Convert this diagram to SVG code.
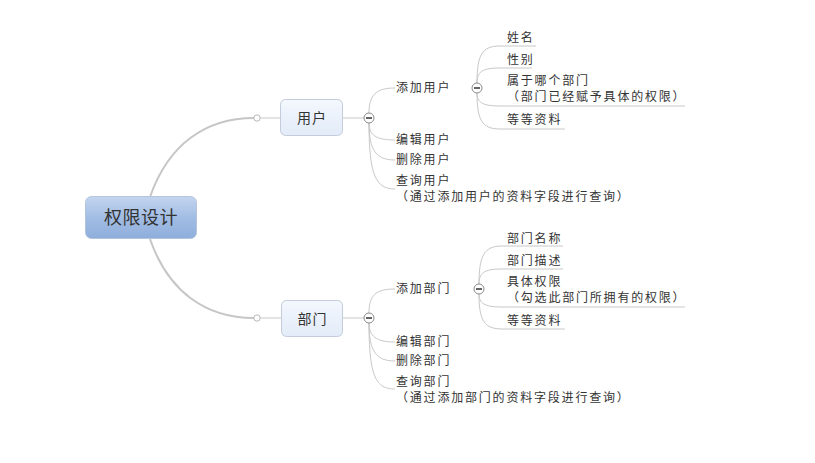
<svg xmlns="http://www.w3.org/2000/svg" width="815" height="463" viewBox="0 0 815 463">
<defs>
<linearGradient id="gRoot" x1="0" y1="0" x2="0" y2="1">
<stop offset="0" stop-color="#c4d5ee"/>
<stop offset="0.5" stop-color="#a2bde4"/>
<stop offset="1" stop-color="#8eaedb"/>
</linearGradient>
<linearGradient id="gMain" x1="0" y1="0" x2="0" y2="1">
<stop offset="0" stop-color="#f4f8fe"/>
<stop offset="1" stop-color="#e2ebf8"/>
</linearGradient>
</defs>
<style>
text{font-family:"Noto Sans CJK SC","Noto Sans",sans-serif;fill:#333}
.t{font-size:12px;letter-spacing:1.8px}
.root{font-size:18px;text-anchor:middle;letter-spacing:0.5px}
.main{font-size:14px;text-anchor:middle;letter-spacing:1px}
.c{fill:none;stroke:#c8c8c8;stroke-width:1}
.rc{fill:none;stroke:#c6c6c6;stroke-width:2}
.dot{fill:#fff;stroke:#b8b8b8;stroke-width:1}
.mc{fill:#fff;stroke:#8a8a8a;stroke-width:1}
.mm{stroke:#222;stroke-width:1.4}
</style>
<rect width="815" height="463" fill="#fff"/>
<g id="connectors">
<path class="rc" d="M150,197 C168,145 205,118 254,118"/>
<path class="rc" d="M150,239 C168,291 205,318 254,318"/>
<path class="c" d="M260,118 L280,118 M343,118 L364,118"/>
<path class="c" d="M260,318 L281,318 M343,318 L364,318"/>
<path class="c" d="M369,113 C369,95 376,88 395,88"/>
<path class="c" d="M369,123 C369,135 376,140 395,140"/>
<path class="c" d="M369,123 C369,150 376,160 395,160"/>
<path class="c" d="M369,123 C369,176 376,189 395,189"/>
<path class="c" d="M477,83 C477,55 482,46 500,46 L536,46"/>
<path class="c" d="M477,83 C477,72 482,68 500,68 L532,68"/>
<path class="c" d="M477,93 C477,102 482,106 500,106 L685,106"/>
<path class="c" d="M477,93 C477,120 482,129 500,129 L565,129"/>
<path class="c" d="M369,313 C369,295 376,289 395,289"/>
<path class="c" d="M369,323 C369,336 376,342 395,342"/>
<path class="c" d="M369,323 C369,351 376,361 395,361"/>
<path class="c" d="M369,323 C369,377 376,389 395,389"/>
<path class="c" d="M479,284 C479,256 484,246 502,246 L563,246"/>
<path class="c" d="M479,284 C479,273 484,269 502,269 L563,269"/>
<path class="c" d="M479,294 C479,303 484,307 502,307 L685,307"/>
<path class="c" d="M479,294 C479,320 484,329 502,329 L565,329"/>
<circle class="dot" cx="257" cy="118" r="3.2"/>
<circle class="dot" cx="257" cy="318" r="3.2"/>
<g><circle class="mc" cx="369" cy="118" r="5"/><path class="mm" d="M366,118 H372"/></g>
<g><circle class="mc" cx="477" cy="88" r="5"/><path class="mm" d="M474,88 H480"/></g>
<g><circle class="mc" cx="369" cy="318" r="5"/><path class="mm" d="M366,318 H372"/></g>
<g><circle class="mc" cx="479" cy="289" r="5"/><path class="mm" d="M476,289 H482"/></g>
</g>
<g id="root">
<rect x="85.5" y="196.5" width="111" height="42" rx="6" fill="url(#gRoot)" stroke="#b4c4dc"/>
<text class="root" x="141" y="224">权限设计</text>
</g>
<g id="user">
<rect x="280.5" y="99.5" width="62" height="36" rx="5" fill="url(#gMain)" stroke="#c2ccda"/>
<text class="main" x="312" y="122.5">用户</text>
</g>
<g id="dept">
<rect x="281.5" y="300.5" width="61" height="36" rx="5" fill="url(#gMain)" stroke="#c2ccda"/>
<text class="main" x="312.5" y="323.5">部门</text>
</g>
<g id="user-add"><text class="t" x="396" y="92">添加用户</text></g>
<g id="user-edit"><text class="t" x="396" y="144">编辑用户</text></g>
<g id="user-del"><text class="t" x="396" y="164">删除用户</text></g>
<g id="user-query"><text class="t" x="396" y="185">查询用户</text><text class="t" x="396" y="201">（通过添加用户的资料字段进行查询）</text></g>
<g id="user-name"><text class="t" x="507" y="42">姓名</text></g>
<g id="user-sex"><text class="t" x="507" y="64">性别</text></g>
<g id="user-dept"><text class="t" x="507" y="85">属于哪个部门</text><text class="t" x="507" y="101">（部门已经赋予具体的权限）</text></g>
<g id="user-etc"><text class="t" x="507" y="124">等等资料</text></g>
<g id="dept-add"><text class="t" x="396" y="293">添加部门</text></g>
<g id="dept-edit"><text class="t" x="396" y="346">编辑部门</text></g>
<g id="dept-del"><text class="t" x="396" y="365">删除部门</text></g>
<g id="dept-query"><text class="t" x="396" y="386">查询部门</text><text class="t" x="396" y="402">（通过添加部门的资料字段进行查询）</text></g>
<g id="dept-name"><text class="t" x="507" y="243">部门名称</text></g>
<g id="dept-desc"><text class="t" x="507" y="265">部门描述</text></g>
<g id="dept-perm"><text class="t" x="507" y="286">具体权限</text><text class="t" x="507" y="302">（勾选此部门所拥有的权限）</text></g>
<g id="dept-etc"><text class="t" x="507" y="325">等等资料</text></g>
</svg>
